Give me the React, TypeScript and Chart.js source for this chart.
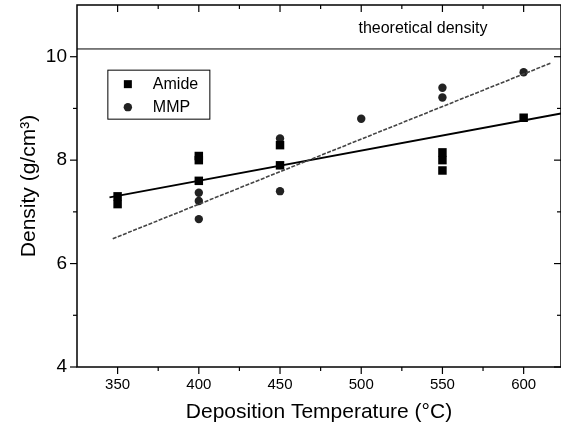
import React, { useEffect, useRef } from 'react';
import { Chart, registerables } from 'chart.js';
Chart.register(...registerables);

const amideX = [350, 350, 400, 400, 400, 450, 450, 550, 550, 550, 600];
const amideY = [7.3, 7.15, 8.08, 8.0, 7.6, 8.29, 7.9, 8.15, 8.0, 7.8, 8.82];
const mmpX = [400, 400, 400, 450, 450, 500, 550, 550, 600];
const mmpY = [7.37, 7.21, 6.86, 8.42, 7.4, 8.8, 9.4, 9.21, 9.7];
const amideFitX = [345, 623];
const amideFitY = [7.28, 8.9];
const mmpFitX = [347, 617];
const mmpFitY = [6.48, 9.88];
const theoX = [325, 623];
const theoY = [10.15, 10.15];
const xMajor = [350, 400, 450, 500, 550, 600];
const xMinor = [375, 425, 475, 525, 575];
const yMajor = [4, 6, 8, 10];
const yMinor = [5, 7, 9];
const seriesNames = ['Amide', 'MMP'];
const theoLabel = 'theoretical density';

const FONT = '"Liberation Sans", Arial, sans-serif';

const zip = (xs: number[], ys: number[]) => xs.map((x, i) => ({ x, y: ys[i] }));

const framePlugin = {
  id: 'frame',
  afterDraw(chart: any) {
    const { ctx, chartArea: a, scales } = chart;
    const xs = scales.x, ys = scales.y;
    ctx.save();
    ctx.strokeStyle = '#000';
    ctx.lineWidth = 1.5;
    ctx.strokeRect(a.left, a.top, a.right - a.left, a.bottom - a.top);
    ctx.lineWidth = 1.2;
    const tick = (x1: number, y1: number, x2: number, y2: number) => {
      ctx.beginPath(); ctx.moveTo(x1, y1); ctx.lineTo(x2, y2); ctx.stroke();
    };
    xMajor.forEach(v => {
      const p = xs.getPixelForValue(v);
      tick(p, a.bottom, p, a.bottom + 7);
      tick(p, a.top, p, a.top + 7);
    });
    xMinor.forEach(v => {
      const p = xs.getPixelForValue(v);
      tick(p, a.bottom, p, a.bottom + 4);
      tick(p, a.top, p, a.top + 4);
    });
    yMajor.forEach(v => {
      const p = ys.getPixelForValue(v);
      tick(a.left, p, a.left - 7, p);
      tick(a.right, p, a.right - 7, p);
    });
    yMinor.forEach(v => {
      const p = ys.getPixelForValue(v);
      tick(a.left, p, a.left - 4, p);
      tick(a.right, p, a.right - 4, p);
    });
    // theoretical density label
    ctx.fillStyle = '#000';
    ctx.font = `16px ${FONT}`;
    ctx.textAlign = 'center';
    ctx.textBaseline = 'middle';
    ctx.fillText(theoLabel, xs.getPixelForValue(538), ys.getPixelForValue(10.54));
    // legend box
    const lx = xs.getPixelForValue(344), ly = ys.getPixelForValue(9.74);
    const lw = 102, lh = 49;
    ctx.lineWidth = 1;
    ctx.strokeRect(lx, ly, lw, lh);
    ctx.font = `16px ${FONT}`;
    ctx.textAlign = 'left';
    ctx.fillRect(lx + 16, ly + 10, 8, 8);
    ctx.fillText(seriesNames[0], lx + 45, ly + 14);
    ctx.fillStyle = '#222';
    ctx.beginPath(); ctx.arc(lx + 20, ly + 37, 4.2, 0, Math.PI * 2); ctx.fill();
    ctx.fillStyle = '#000';
    ctx.fillText(seriesNames[1], lx + 45, ly + 37);
    ctx.restore();
  },
};

export default function App() {
  const ref = useRef<HTMLCanvasElement>(null);
  useEffect(() => {
    if (!ref.current) return;
    const chart = new Chart(ref.current, {
      type: 'scatter',
      data: {
        datasets: [
          { label: 'theo', data: zip(theoX, theoY), showLine: true, borderColor: '#000', borderWidth: 1, pointRadius: 0 },
          { label: 'mmpfit', data: zip(mmpFitX, mmpFitY), showLine: true, borderColor: '#444', borderWidth: 1.6, borderDash: [4, 1.5], pointRadius: 0 },
          { label: 'amidefit', data: zip(amideFitX, amideFitY), showLine: true, borderColor: '#000', borderWidth: 2, pointRadius: 0 },
          { label: seriesNames[0], data: zip(amideX, amideY), pointStyle: 'rect', pointRadius: 6, backgroundColor: '#000', borderColor: '#000', borderWidth: 0 },
          { label: seriesNames[1], data: zip(mmpX, mmpY), pointStyle: 'circle', pointRadius: 4.2, backgroundColor: '#222', borderColor: '#222', borderWidth: 0 },
        ],
      },
      options: {
        responsive: false,
        animation: false,
        events: [],
        layout: { autoPadding: false, padding: { top: 5, right: -2, left: 0, bottom: 0 } },
        plugins: { legend: { display: false }, tooltip: { enabled: false } },
        scales: {
          x: {
            type: 'linear', min: 325, max: 623,
            afterBuildTicks: (s: any) => { s.ticks = xMajor.map(v => ({ value: v })); },
            afterFit: (s: any) => { s.height = 68; s.paddingLeft = 0; s.paddingRight = 0; },
            grid: { display: false, drawTicks: false },
            border: { display: false },
            ticks: { color: '#000', font: { family: FONT, size: 15 }, padding: 9, maxRotation: 0 },
            title: { display: true, text: 'Deposition Temperature (°C)', color: '#000', font: { family: FONT, size: 21 }, padding: { top: 0, bottom: 10 } },
          },
          y: {
            type: 'linear', min: 4, max: 11,
            afterBuildTicks: (s: any) => { s.ticks = yMajor.map(v => ({ value: v })); },
            afterFit: (s: any) => { s.width = 77; s.paddingTop = 0; s.paddingBottom = 0; },
            grid: { display: false, drawTicks: false },
            border: { display: false },
            ticks: { color: '#000', font: { family: FONT, size: 19 }, padding: 10 },
            title: { display: true, text: 'Density (g/cm³)', color: '#000', font: { family: FONT, size: 21 }, padding: { top: 17, bottom: 0 } },
          },
        },
      },
      plugins: [framePlugin],
    } as any);
    return () => chart.destroy();
  }, []);
  return (
    <div style={{ position: 'fixed', left: 0, top: 0, width: 561, height: 435, background: '#fff' }}>
      <canvas ref={ref} width={561} height={435} />
    </div>
  );
}
